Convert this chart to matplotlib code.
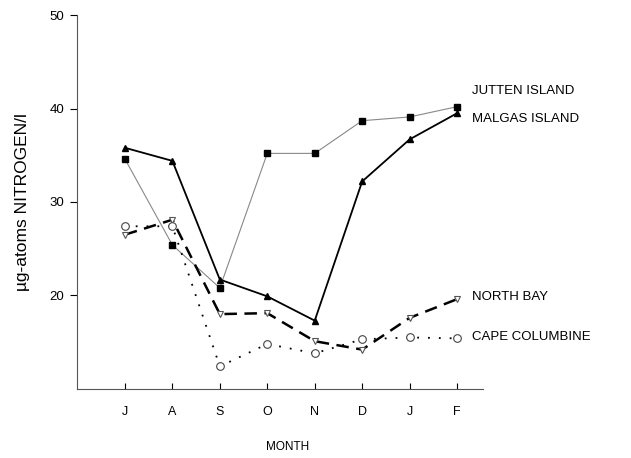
import numpy as np
import matplotlib
matplotlib.use("Agg")
import matplotlib.pyplot as plt

months = ["J", "A", "S", "O", "N", "D", "J", "F"]
jutten = [34.6, 25.4, 20.8, 35.2, 35.2, 38.7, 39.1, 40.2]
malgas = [35.8, 34.4, 21.7, 19.9, 17.3, 32.2, 36.7, 39.5]
north_bay = [26.5, 28.1, 18.0, 18.1, 15.1, 14.2, 17.6, 19.6]
cape_col = [27.4, 27.4, 12.4, 14.8, 13.8, 15.3, 15.5, 15.4]
labels = ["JUTTEN ISLAND", "MALGAS ISLAND", "NORTH BAY", "CAPE COLUMBINE"]
label_y = [41.9, 38.9, 19.8, 15.5]

plt.rcParams['font.family'] = ['Liberation Sans', 'DejaVu Sans']

fig = plt.figure(figsize=(6.31, 4.58), dpi=100)
ax = fig.add_axes([0.122, 0.151, 0.643, 0.816])
x = np.arange(len(months))

ax.plot(x, jutten, color="#888888", lw=0.8, marker="s", ms=5,
        mfc="black", mec="black")
ax.plot(x, malgas, color="black", lw=1.3, marker="^", ms=4.5,
        mfc="black", mec="black")
ax.plot(x, north_bay, color="black", lw=1.8, ls=(0, (5, 3)), marker="v",
        ms=5, mfc="white", mec="#555555", mew=0.8)
ax.plot(x, cape_col, color="black", lw=1.3, ls=(0, (1, 5)), marker="o",
        ms=5.5, mfc="white", mec="#444444", mew=0.8)

# labels at the right end of each line
for lab, ty in zip(labels, label_y):
    ax.text(len(months) - 1 + 0.32, ty, lab, fontsize=9.5, va="center",
            ha="left", clip_on=False)

ax.set_xlim(-1.01, 7.54)
ax.set_ylim(10, 50)
ax.set_xticks(x)
ax.set_xticklabels(months, fontsize=9)
ax.set_yticks([20, 30, 40, 50])
ax.set_yticklabels(["20", "30", "40", "50"], fontsize=9.5)
ax.tick_params(axis="x", direction="in", length=4, pad=12)
ax.tick_params(axis="y", direction="out", length=5, pad=4)

for s in ["top", "right"]:
    ax.spines[s].set_visible(False)
ax.spines["left"].set_color("#555555")
ax.spines["bottom"].set_color("#555555")

ax.set_ylabel("µg-atoms NITROGEN/l", fontsize=12.5, labelpad=14)
fig.text(0.455, 0.024, "MONTH", fontsize=8.5, ha="center", va="center")

fig.savefig("out.png", dpi=100)
